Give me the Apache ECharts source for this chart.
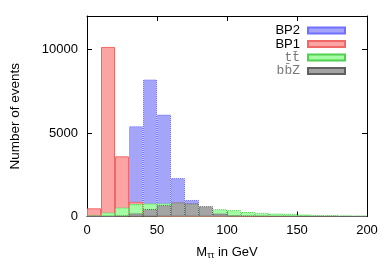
<!DOCTYPE html>
<html>
<head>
<meta charset="utf-8">
<script src="https://cdn.jsdelivr.net/npm/echarts@6/dist/echarts.min.js"></script>
<style>html,body{margin:0;padding:0;background:#fff}#c{width:392px;height:274px}</style>
</head>
<body>
<div id="c"></div>
<script>
var bins = ['0-10','10-20','20-30','30-40','40-50','50-60','60-70','70-80','80-90','90-100',
            '100-110','110-120','120-130','130-140','140-150','150-160','160-170','170-180','180-190','190-200'];
var bp2 = [0, 0, 50, 5400, 8200, 6100, 2300, 990, 300, 100, 40, 20, 10, 5, 0, 0, 0, 0, 0, 0];
var bp1 = [490, 10150, 3600, 880, 100, 20, 0, 0, 0, 0, 0, 0, 0, 0, 0, 0, 0, 0, 0, 0];
var ttbar = [80, 240, 540, 740, 780, 790, 760, 700, 560, 440, 380, 270, 220, 180, 160, 120, 80, 80, 60, 50];
var bbz = [10, 20, 40, 190, 450, 680, 850, 790, 620, 180, 60, 30, 20, 10, 10, 5, 5, 5, 0, 0];
var xTicks = [0, 50, 100, 150, 200];
var yTicks = [0, 5000, 10000];

var FONT = '"Liberation Sans", Arial, sans-serif';
var MONO = '"Liberation Mono", "DejaVu Sans Mono", monospace';
var names = ['BP2', 'BP1', 't t\u0304', 'b b\u0304 Z'];

function mkSeries(name, data, fill, border, btype) {
  return {
    name: name, type: 'bar', xAxisIndex: 0, yAxisIndex: 0,
    data: data, barGap: '-100%', barCategoryGap: 0,
    itemStyle: { color: fill, borderColor: border, borderWidth: 1, borderType: btype },
    emphasis: { disabled: true }, animation: false
  };
}

var chart = echarts.init(document.getElementById('c'), null, { renderer: 'canvas' });
chart.setOption({
  animation: false,
  grid: { left: 83, right: 25, top: 16, bottom: 57.5 },
  legend: {
    orient: 'vertical', align: 'right', right: 41, top: 19,
    itemWidth: 37, itemHeight: 6, itemGap: 0.5,
    selectedMode: false, icon: 'rect',
    data: names,
    formatter: function (n) {
      if (n === 'BP2' || n === 'BP1') return '{a|' + n + '}';
      return '{m|' + n.replace(/ /g, '') + '}';
    },
    textStyle: {
      rich: {
        a: { fontFamily: FONT, fontSize: 13, color: '#000', lineHeight: 13.5, padding: [0, 3, 0, 0] },
        m: { fontFamily: MONO, fontSize: 13, color: '#777', lineHeight: 13.5, padding: [0, 3, 0, 0] }
      }
    }
  },
  xAxis: [
    { type: 'category', data: bins, show: false, boundaryGap: true },
    {
      type: 'value', min: 0, max: 200, interval: 50, position: 'bottom',
      axisLine: { show: true, onZero: false, lineStyle: { color: '#000', width: 1 } },
      axisTick: { show: true, inside: true, length: 5, lineStyle: { color: '#000' } },
      axisLabel: { color: '#000', fontFamily: FONT, fontSize: 13, margin: 7,
        formatter: function (v) { return xTicks.indexOf(v) >= 0 ? String(v) : ''; } },
      splitLine: { show: false },
      name: '{a|M}{b|\u03c4\u03c4}{a| in GeV}', nameLocation: 'middle', nameGap: 27,
      nameTextStyle: { rich: {
        a: { fontFamily: FONT, fontSize: 13, color: '#000' },
        b: { fontFamily: FONT, fontSize: 9, color: '#000', padding: [8, 0, 0, 0] }
      } }
    },
    {
      type: 'value', min: 0, max: 200, interval: 50, position: 'top',
      axisLine: { show: true, onZero: false, lineStyle: { color: '#000', width: 1 } },
      axisTick: { show: true, inside: true, length: 5, lineStyle: { color: '#000' } },
      axisLabel: { show: false }, splitLine: { show: false }
    }
  ],
  yAxis: [
    {
      type: 'value', min: 0, max: 12000, interval: 5000, position: 'left',
      axisLine: { show: true, onZero: false, lineStyle: { color: '#000', width: 1 } },
      axisTick: { show: true, inside: true, length: 5, lineStyle: { color: '#000' } },
      axisLabel: { color: '#000', fontFamily: FONT, fontSize: 13, margin: 9, showMaxLabel: false,
        formatter: function (v) { return yTicks.indexOf(v) >= 0 ? String(v) : ''; } },
      splitLine: { show: false },
      name: 'Number of events', nameLocation: 'middle', nameGap: 65,
      nameTextStyle: { fontFamily: FONT, fontSize: 13.5, color: '#000' }
    },
    {
      type: 'value', min: 0, max: 12000, interval: 5000, position: 'right',
      axisLine: { show: true, onZero: false, lineStyle: { color: '#000', width: 1 } },
      axisTick: { show: true, inside: true, length: 5, lineStyle: { color: '#000' } },
      axisLabel: { show: false }, splitLine: { show: false }
    }
  ],
  series: [
    mkSeries(names[0], bp2, '#a4a4fb', '#7070ff', 'dotted'),
    mkSeries(names[1], bp1, '#fca4a4', '#f06868', 'solid'),
    mkSeries(names[2], ttbar, '#a4fca4', '#50d050', 'dotted'),
    mkSeries(names[3], bbz, '#a4a4a4', '#606060', 'dotted')
  ]
});
</script>
</body>
</html>
